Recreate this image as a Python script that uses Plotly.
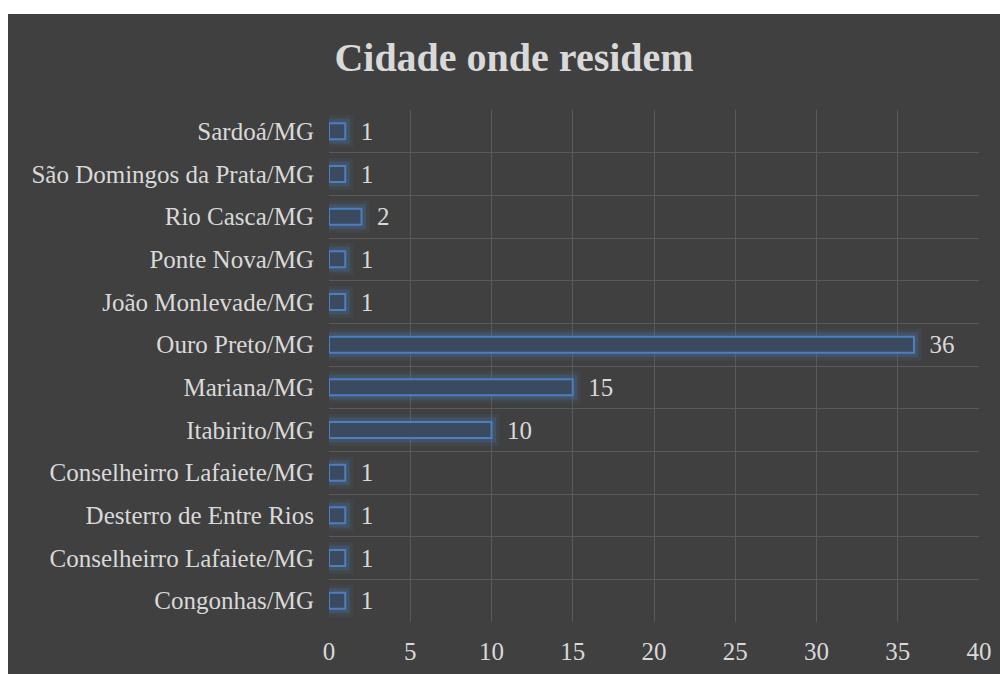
import plotly.graph_objects as go

# ==========================================================
# Data
# ==========================================================

cities = [
    "Congonhas/MG",
    "Conselheirro Lafaiete/MG",
    "Desterro de Entre Rios",
    "Conselheirro Lafaiete/MG",
    "Itabirito/MG",
    "Mariana/MG",
    "Ouro Preto/MG",
    "João Monlevade/MG",
    "Ponte Nova/MG",
    "Rio Casca/MG",
    "São Domingos da Prata/MG",
    "Sardoá/MG",
]

counts = [1, 1, 1, 1, 10, 15, 36, 1, 1, 2, 1, 1]

x_ticks = [0, 5, 10, 15, 20, 25, 30, 35, 40]

positions = list(range(len(cities)))

BG = "#404040"
GRID = "#5a5a5a"
TEXT = "#d9d9d9"
FONT = "Liberation Serif"

# ==========================================================
# Figure
# ==========================================================

fig = go.Figure()

# soft glow behind bars (two layers)
for glow_width, glow_alpha in [(16, 0.10), (9, 0.22)]:
    fig.add_trace(
        go.Bar(
            x=counts,
            y=positions,
            orientation="h",
            width=0.375,
            marker=dict(
                color="rgba(0,0,0,0)",
                line=dict(color=f"rgba(79,129,189,{glow_alpha})", width=glow_width)
            ),
            hoverinfo="skip",
            showlegend=False
        )
    )

fig.add_trace(
    go.Bar(
        x=counts,
        y=positions,
        orientation="h",
        width=0.375,
        text=counts,
        texttemplate="  %{x}",
        textposition="outside",
        constraintext="none",
        cliponaxis=False,
        textfont=dict(family=FONT, size=25, color=TEXT),
        marker=dict(
            color="#3b4a5e",
            line=dict(color="#4a7fc1", width=2)
        ),
        showlegend=False
    )
)

fig.update_layout(
    width=1008,
    height=674,
    barmode="overlay",
    paper_bgcolor="white",
    plot_bgcolor="rgba(0,0,0,0)",
    margin=dict(l=321, r=37, t=102, b=60),
    title=dict(
        text="<b>Cidade onde residem</b>",
        x=0.502,
        xanchor="center",
        y=0.928,
        yanchor="middle",
        font=dict(family=FONT, size=40, color=TEXT)
    ),
    shapes=[
        dict(
            type="rect",
            xref="paper",
            yref="paper",
            x0=-0.5,
            x1=1.1,
            y0=-0.2,
            y1=1.1875,
            fillcolor=BG,
            line=dict(width=0),
            layer="below"
        )
    ],
    xaxis=dict(
        range=[0, 40],
        tickvals=x_ticks,
        showgrid=True,
        gridcolor=GRID,
        gridwidth=1,
        zeroline=False,
        showline=False,
        ticklabelstandoff=12,
        tickfont=dict(family=FONT, size=25, color=TEXT)
    ),
    yaxis=dict(
        range=[-0.5, len(cities) - 0.5],
        tickvals=positions,
        ticktext=cities,
        showgrid=False,
        zeroline=False,
        ticklabelstandoff=14,
        tickfont=dict(family=FONT, size=25, color=TEXT),
        minor=dict(
            tickmode="array",
            tickvals=[p - 0.5 for p in positions] + [len(cities) - 0.5],
            showgrid=True,
            gridcolor=GRID,
            gridwidth=1
        )
    )
)

fig.write_html("out.html")
